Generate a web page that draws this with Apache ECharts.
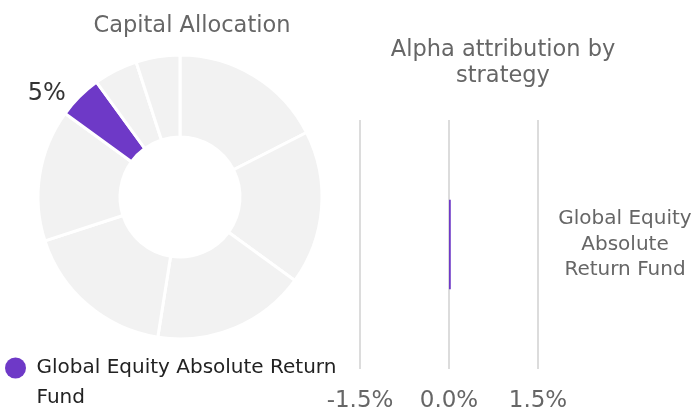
<!DOCTYPE html>
<html>
<head>
    <meta charset="utf-8">
    <title>Capital Allocation</title>
    <script src="https://cdn.jsdelivr.net/npm/echarts@6/dist/echarts.min.js"></script>
    <style>
        html, body { margin: 0; padding: 0; background: #fff; }
    </style>
</head>
<body>
    <div id="main" style="width: 694px;height:407px;"></div>
    <script type="text/javascript">
        // 资金分配 (donut)
        var sliceNames = ['Strategy A', 'Strategy B', 'Strategy C', 'Strategy D', 'Strategy E',
                          'Global Equity Absolute Return Fund', 'Strategy F', 'Strategy G'];
        var sliceValues = [17.5, 17.5, 17.5, 17.5, 15, 5, 5, 5];
        var highlightName = 'Global Equity Absolute Return Fund';

        // alpha attribution (bar)
        var strategies = ['Global Equity\nAbsolute\nReturn Fund'];
        var alphaValues = [0.03];
        var xTicks = [-1.5, 0, 1.5];

        var purple = '#6e39c7';
        var grey = '#f2f2f2';
        var font = 'DejaVu Sans';

        var myChart = echarts.init(document.getElementById('main'));

        var pieData = sliceNames.map(function (n, i) {
            var item = { name: n, value: sliceValues[i], itemStyle: { color: grey } };
            if (n === highlightName) {
                item.itemStyle = { color: purple };
                item.label = { show: true };
            }
            return item;
        });

        var option = {
            animation: false,
            title: [
                {
                    text: 'Capital Allocation',
                    left: 187, top: 10, textAlign: 'center',
                    textStyle: { fontFamily: font, fontSize: 22.5, fontWeight: 'normal', color: '#666' }
                },
                {
                    text: 'Alpha attribution by\nstrategy',
                    left: 498, top: 32, textAlign: 'center',
                    textStyle: { fontFamily: font, fontSize: 22.5, fontWeight: 'normal', color: '#666', lineHeight: 26 }
                }
            ],
            legend: {
                data: [highlightName],
                left: 5, top: 323, padding: 0,
                icon: 'circle',
                itemWidth: 32, itemHeight: 21,
                // 空的第一行让图标对齐到第一行文字
                formatter: function () { return ' \nGlobal Equity Absolute Return\nFund'; },
                textStyle: { fontFamily: font, fontSize: 20, color: '#222', lineHeight: 30 }
            },
            grid: { left: 360, right: 156, top: 120, bottom: 38, outerBoundsMode: 'none' },
            xAxis: {
                type: 'value',
                min: xTicks[0], max: xTicks[xTicks.length - 1], interval: 1.5,
                axisLine: { show: false },
                axisTick: { show: false },
                splitLine: { lineStyle: { color: '#dcdcdc', width: 2 } },
                axisLabel: {
                    fontFamily: font, fontSize: 23, color: '#666', margin: 21,
                    formatter: function (v) { return v.toFixed(1) + '%'; }
                }
            },
            yAxis: {
                type: 'category',
                position: 'right',
                data: strategies,
                axisLine: { show: false },
                axisTick: { show: false },
                axisLabel: {
                    fontFamily: font, fontSize: 20, color: '#666', lineHeight: 25.5,
                    align: 'center', margin: 87, padding: [6, 0, 0, 0]
                }
            },
            series: [
                {
                    type: 'pie',
                    name: 'Capital Allocation',
                    center: [180, 197],
                    radius: [60, 142],
                    startAngle: 90,
                    clockwise: true,
                    percentPrecision: 0,
                    itemStyle: { borderColor: '#fff', borderWidth: 3 },
                    label: {
                        show: false,
                        position: 'outside',
                        formatter: '{d}%',
                        fontFamily: font, fontSize: 24, color: '#333'
                    },
                    labelLine: { show: false, length: 4, length2: 6 },
                    emphasis: { disabled: true },
                    data: pieData
                },
                {
                    type: 'bar',
                    name: highlightName,
                    barWidth: '36%',
                    itemStyle: { color: purple },
                    emphasis: { disabled: true },
                    data: alphaValues
                }
            ]
        };

        myChart.setOption(option);
    </script>
</body>
</html>
